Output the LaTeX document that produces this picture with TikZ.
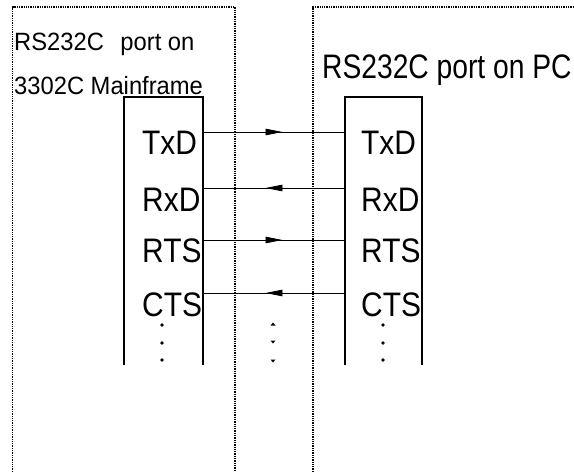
\documentclass[tikz,border=0pt]{standalone}
\usepackage{fontspec}
\setmainfont{Liberation Sans}
\newfontfamily\pinfont[FakeStretch=0.88]{Liberation Sans}
\newfontfamily\headfont[FakeStretch=0.83]{Liberation Sans}
\newfontfamily\subfont[FakeStretch=0.95]{Liberation Sans}
\usetikzlibrary{arrows.meta, decorations.markings}

\begin{document}
\begin{tikzpicture}[
    x=1pt, y=-1pt,
    frame/.style={densely dotted, line width=1.3pt},
    port/.style={line width=1.2pt},
    sig/.style={line width=0.8pt, postaction={decorate},
        decoration={markings, mark=at position 0.56 with {\arrow{Triangle[length=17pt, width=6.5pt]}}}},
    pin/.style={anchor=base west, inner sep=0pt, font=\pinfont\fontsize{34}{40}\selectfont},
    title/.style={anchor=base west, inner sep=0pt},
    dot/.style={circle, fill=black, inner sep=1.3pt}
]
    \useasboundingbox (0,0) rectangle (574,472);

    % ==========================================
    % MAINFRAME SIDE (left)
    % ==========================================
    \coordinate (m_frame_bl) at (12.5,472);
    \coordinate (m_frame_tl) at (12.5,7);
    \coordinate (m_frame_tr) at (235,7);
    \coordinate (m_frame_br) at (235,472);
    \draw[frame] (m_frame_bl) -- (m_frame_tl) -- (m_frame_tr) -- (m_frame_br);

    \node[title, font=\subfont\fontsize{25}{30}\selectfont] (m_title_a) at (14,50) {RS232C\hspace{16.5pt}port on};
    \node[title, font=\subfont\fontsize{25}{30}\selectfont] (m_title_b) at (14,94) {3302C Mainframe};

    % Port box (open at the bottom)
    \coordinate (m_bl) at (124,365);
    \coordinate (m_tl) at (124,97);
    \coordinate (m_tr) at (203,97);
    \coordinate (m_br) at (203,365);
    \draw[port] (m_bl) -- (m_tl) -- (m_tr) -- (m_br);

    \node[pin] (m_txd) at (142,154) {TxD};
    \node[pin] (m_rxd) at (142,211) {RxD};
    \node[pin] (m_rts) at (142,262) {RTS};
    \node[pin] (m_cts) at (142,316) {CTS};

    \foreach \y [count=\i] in {325,343,360}
        \node[dot] (m_dot\i) at (162,\y) {};

    % ==========================================
    % PC SIDE (right)
    % ==========================================
    \coordinate (p_frame_bl) at (313,472);
    \coordinate (p_frame_tl) at (313,7);
    \coordinate (p_frame_tr) at (574,7);
    \draw[frame] (p_frame_bl) -- (p_frame_tl) -- (p_frame_tr);

    \node[title, font=\headfont\fontsize{34}{40}\selectfont] (p_title) at (322,78) {RS232C port on PC};

    % Port box (open at the bottom)
    \coordinate (p_bl) at (345,365);
    \coordinate (p_tl) at (345,97);
    \coordinate (p_tr) at (422,97);
    \coordinate (p_br) at (422,365);
    \draw[port] (p_bl) -- (p_tl) -- (p_tr) -- (p_br);

    \node[pin] (p_txd) at (361,154) {TxD};
    \node[pin] (p_rxd) at (361,211) {RxD};
    \node[pin] (p_rts) at (361,262) {RTS};
    \node[pin] (p_cts) at (361,316) {CTS};

    \foreach \y [count=\i] in {325,343,360}
        \node[dot] (p_dot\i) at (383,\y) {};

    % ==========================================
    % SIGNALS (mainframe pin -> PC pin)
    % ==========================================
    \coordinate (m_txd_end) at (203,132);  \coordinate (p_txd_end) at (345,132);
    \coordinate (m_rxd_end) at (203,188);  \coordinate (p_rxd_end) at (345,188);
    \coordinate (m_rts_end) at (203,240);  \coordinate (p_rts_end) at (345,240);
    \coordinate (m_cts_end) at (203,293);  \coordinate (p_cts_end) at (345,293);

    \draw[sig] (m_txd_end) -- (p_txd_end);
    \draw[sig] (p_rxd_end) -- (m_rxd_end);
    \draw[sig] (m_rts_end) -- (p_rts_end);
    \draw[sig] (p_cts_end) -- (m_cts_end);

    % continuation marks between the ports
    \fill (270.5,325.5) -- (275.5,325.5) -- (273,322.5) -- cycle;
    \fill (270.5,340.5) -- (275.5,340.5) -- (273,343.5) -- cycle;
    \fill (270.5,359.5) -- (275.5,359.5) -- (273,362.5) -- cycle;

\end{tikzpicture}
\end{document}
